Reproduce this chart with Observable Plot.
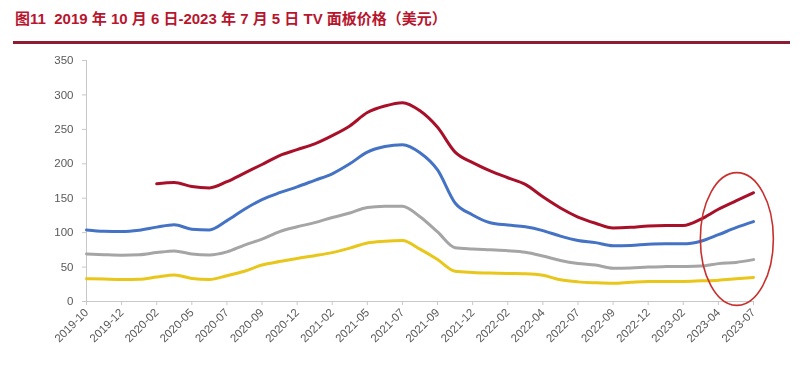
<!DOCTYPE html>
<html>
<head>
<meta charset="utf-8">
<script src="https://cdn.jsdelivr.net/npm/d3@7"></script>
<script src="https://cdn.jsdelivr.net/npm/@observablehq/plot@0.6"></script>
<style>
  html, body { margin: 0; padding: 0; background: #fff; }
  #wrap { position: relative; width: 800px; height: 366px; overflow: hidden; }
  #title { position: absolute; left: 15px; top: 10px; font: bold 15px "Liberation Sans", Arial, "Noto Sans CJK SC", sans-serif; color: #B8152E; line-height: 18px; white-space: pre; }
  #rule { position: absolute; left: 13px; top: 41px; width: 777px; height: 2.5px; background: #8C1D33; }
  #chart { position: absolute; left: 0; top: 44px; will-change: transform; -webkit-font-smoothing: antialiased; }
  #chart text { -webkit-font-smoothing: antialiased; }
</style>
</head>
<body>
<div id="wrap">
  <div id="title">图11  2019 年 10 月 6 日-2023 年 7 月 5 日 TV 面板价格（美元）</div>
  <div id="rule"></div>
  <div id="chart"></div>
</div>
<script>
// Category tick labels of the x axis (one per tick position 0..19)
const tickLabels = ["2019-10","2019-12","2020-02","2020-05","2020-07","2020-09","2020-12","2021-02","2021-05","2021-07","2021-09","2021-12","2022-02","2022-04","2022-07","2022-09","2022-12","2023-02","2023-04","2023-07"];
const tickPositions = [0,1,2,3,4,5,6,7,8,9,10,11,12,13,14,15,16,17,18,19];
const yTicks = [0,50,100,150,200,250,300,350];

// Sample positions along the category axis (in tick units)
const positions = [0,0.5,1,1.5,2,2.5,3,3.5,4,4.5,5,5.5,6,6.5,7,7.5,8,8.5,9,9.5,10,10.5,11,11.5,12,12.5,13,13.5,14,14.5,15,15.5,16,16.5,17,17.5,18,18.5,19];

// Series values (USD)
const seriesNames = ["65\"", "55\"", "43\"", "32\""];
const red65 = [null,null,null,null,171,173,167,165,174,186.5,199,212,220.5,229,241,255,274.4,284,288.8,277,253,217,201.7,189.7,179.7,170,152,135.8,122.7,113.7,106.8,107.7,109.8,110.4,110.4,119.6,134,146,158];
const blue55 = [104,102,101.5,103.5,108,111.5,105,104,117.5,134,148,158,166.5,176,185.5,200,217,225,227.7,216,191,143,125.7,114.3,111,108.5,103,95,88.7,85.5,81,81.4,83,83.7,83.7,87.6,97,107.2,116];
const gray43 = [69,68,67.3,67.8,71,73.5,69,67.5,72,82,90.5,101.5,108.5,114.5,122,128.5,136.5,138.3,138.5,123,101,78,76.2,75,73.7,71.5,66,59.5,55.2,53,48.3,48.8,50.2,50.7,50.9,51.5,55,56.8,60.8];
const yellow32 = [33,32.5,32,32.3,35.5,38.5,33.5,32,37.5,44,53,58,62.5,66.5,71,77.5,85,87.5,88.5,76,61,44,42.2,41.3,40.8,40.3,38,31.5,28.5,27.2,26.5,28,29.2,29.2,29.2,30,31,33,35];
const seriesColors = ["#A8102A", "#4472C4", "#A5A5A5", "#E8C61A"];

// Highlight ellipse bounds (data units)
const highlight = {x0: 17.5, x1: 19.58, y0: -6.3, y1: 186.5};

const allSeries = [red65, blue55, gray43, yellow32];
const rows = [];
allSeries.forEach((vals, si) => {
  positions.forEach((p, i) => {
    if (vals[i] != null) rows.push({x: p, v: vals[i], name: seriesNames[si]});
  });
});

const plot = Plot.plot({
  width: 800,
  height: 322,
  marginTop: 16,
  marginLeft: 86,
  marginRight: 47,
  marginBottom: 65,
  style: {fontFamily: "'Liberation Sans', Arial, sans-serif", fontSize: "11.5px", color: "#595959", background: "#fff"},
  x: {domain: [0, 19]},
  y: {domain: [0, 350]},
  color: {domain: seriesNames, range: seriesColors},
  marks: [
    Plot.axisY({ticks: yTicks, tickSize: 4, tickPadding: 9, label: null}),
    Plot.axisX({ticks: tickPositions, tickFormat: i => tickLabels[i], tickRotate: -45, tickSize: 4, tickPadding: 5, label: null}),
    Plot.ruleX([0], {stroke: "#C8C8C8"}),
    Plot.ruleY([0], {stroke: "#C8C8C8"}),
    Plot.line(rows, {x: "x", y: "v", z: "name", stroke: "name", strokeWidth: 3, curve: "monotone-x", strokeLinejoin: "round", strokeLinecap: "round"})
  ]
});

// light grey tick marks, grey labels
d3.select(plot).selectAll('g[aria-label="y-axis tick"], g[aria-label="x-axis tick"]').attr("stroke", "#C8C8C8");
d3.select(plot).selectAll('g[aria-label="y-axis tick label"], g[aria-label="x-axis tick label"]').attr("fill", "#595959");

const sx = plot.scale("x"), sy = plot.scale("y");
const ex0 = sx.apply(highlight.x0), ex1 = sx.apply(highlight.x1);
const ey0 = sy.apply(highlight.y0), ey1 = sy.apply(highlight.y1);
d3.select(plot).append("ellipse")
  .attr("cx", (ex0 + ex1) / 2).attr("cy", (ey0 + ey1) / 2)
  .attr("rx", Math.abs(ex1 - ex0) / 2).attr("ry", Math.abs(ey1 - ey0) / 2)
  .attr("fill", "none").attr("stroke", "#C8302E").attr("stroke-width", 1.6);

document.getElementById("chart").appendChild(plot);
</script>
</body>
</html>
